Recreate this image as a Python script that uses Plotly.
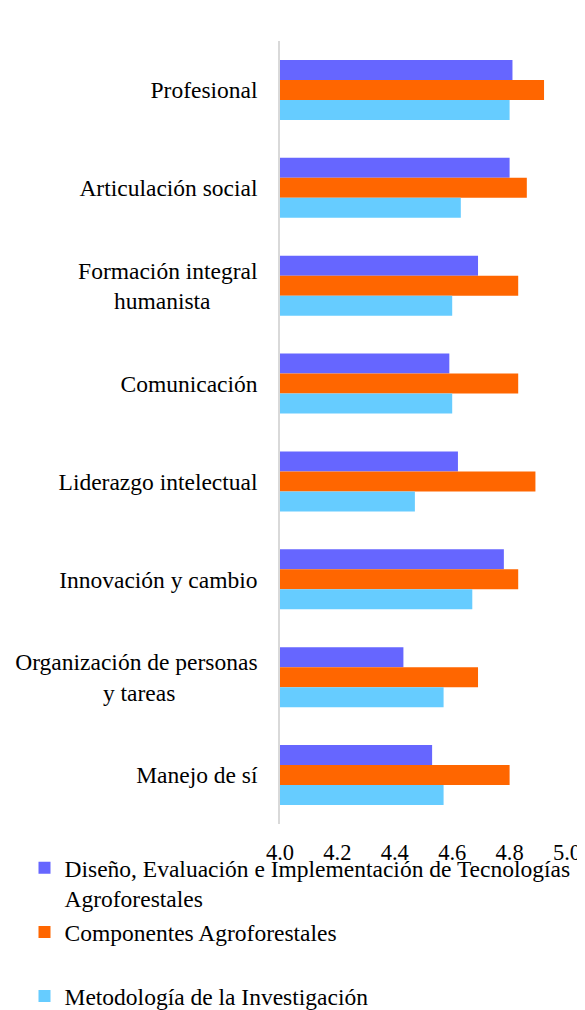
import plotly.graph_objects as go

categories = [
    "Profesional",
    "Articulación social",
    "Formación integral<br>humanista",
    "Comunicación",
    "Liderazgo intelectual",
    "Innovación y cambio",
    "Organización de personas<br>y tareas",
    "Manejo de sí",
]

series_names = [
    "Diseño, Evaluación e Implementación de Tecnologías<br>Agroforestales",
    "Componentes Agroforestales<br> ",
    "Metodología de la Investigación",
]

diseno = [4.81, 4.80, 4.69, 4.59, 4.62, 4.78, 4.43, 4.53]
componentes = [4.92, 4.86, 4.83, 4.83, 4.89, 4.83, 4.69, 4.80]
metodologia = [4.80, 4.63, 4.60, 4.60, 4.47, 4.67, 4.57, 4.57]

x_ticks = [4.0, 4.2, 4.4, 4.6, 4.8, 5.0]

colors = ["#6666FF", "#FF6600", "#66CCFF"]
FONT = "Liberation Serif"
NBSP = "\u00a0"

# the page body adds an 8px margin; size the figure so it fits the window
W, H = 577, 1002


def centered(label):
    lines = label.split("<br>")
    longest = max(len(l) for l in lines)
    out = []
    for l in lines:
        pad = round((longest - len(l)) * 0.9)
        out.append(l + NBSP * pad)
    return "<br>".join(out)


ticktext = [centered(c) for c in categories]

fig = go.Figure()
for name, vals, col in zip(series_names, [diseno, componentes, metodologia], colors):
    fig.add_trace(go.Bar(
        y=categories, x=vals, name=name, orientation="h",
        marker=dict(color=col, line=dict(width=0)),
    ))

fig.update_layout(
    width=W, height=H,
    barmode="group", bargap=0.387, bargroupgap=0,
    paper_bgcolor="white", plot_bgcolor="white",
    margin=dict(l=272, r=18, t=33, b=186, autoexpand=False),
    font=dict(family=FONT, size=23.5, color="black"),
    showlegend=True,
    legend=dict(
        orientation="v", xref="container", yref="container",
        x=16.5 / W, y=1 - 838 / H, xanchor="left", yanchor="top",
        valign="top", traceorder="normal",
        font=dict(family=FONT, size=23.5, color="black"),
        itemwidth=30, tracegroupgap=0,
        bgcolor="rgba(0,0,0,0)",
    ),
)

fig.update_xaxes(
    range=[4.0, 5.0], tickvals=x_ticks, ticktext=[f"{v:.1f}" for v in x_ticks],
    showgrid=False, zeroline=False, showline=False, ticks="",
    tickfont=dict(family=FONT, size=22.5, color="black"),
    ticklabelstandoff=12, automargin=False,
)
fig.update_yaxes(
    type="category", autorange="reversed",
    tickvals=categories, ticktext=ticktext,
    showgrid=False, zeroline=False, showline=True,
    linecolor="#d9d9d9", linewidth=1.5, ticks="",
    tickfont=dict(family=FONT, size=23.5, color="black"),
    ticklabelstandoff=16, automargin=False,
)

fig.write_html("out.html")
